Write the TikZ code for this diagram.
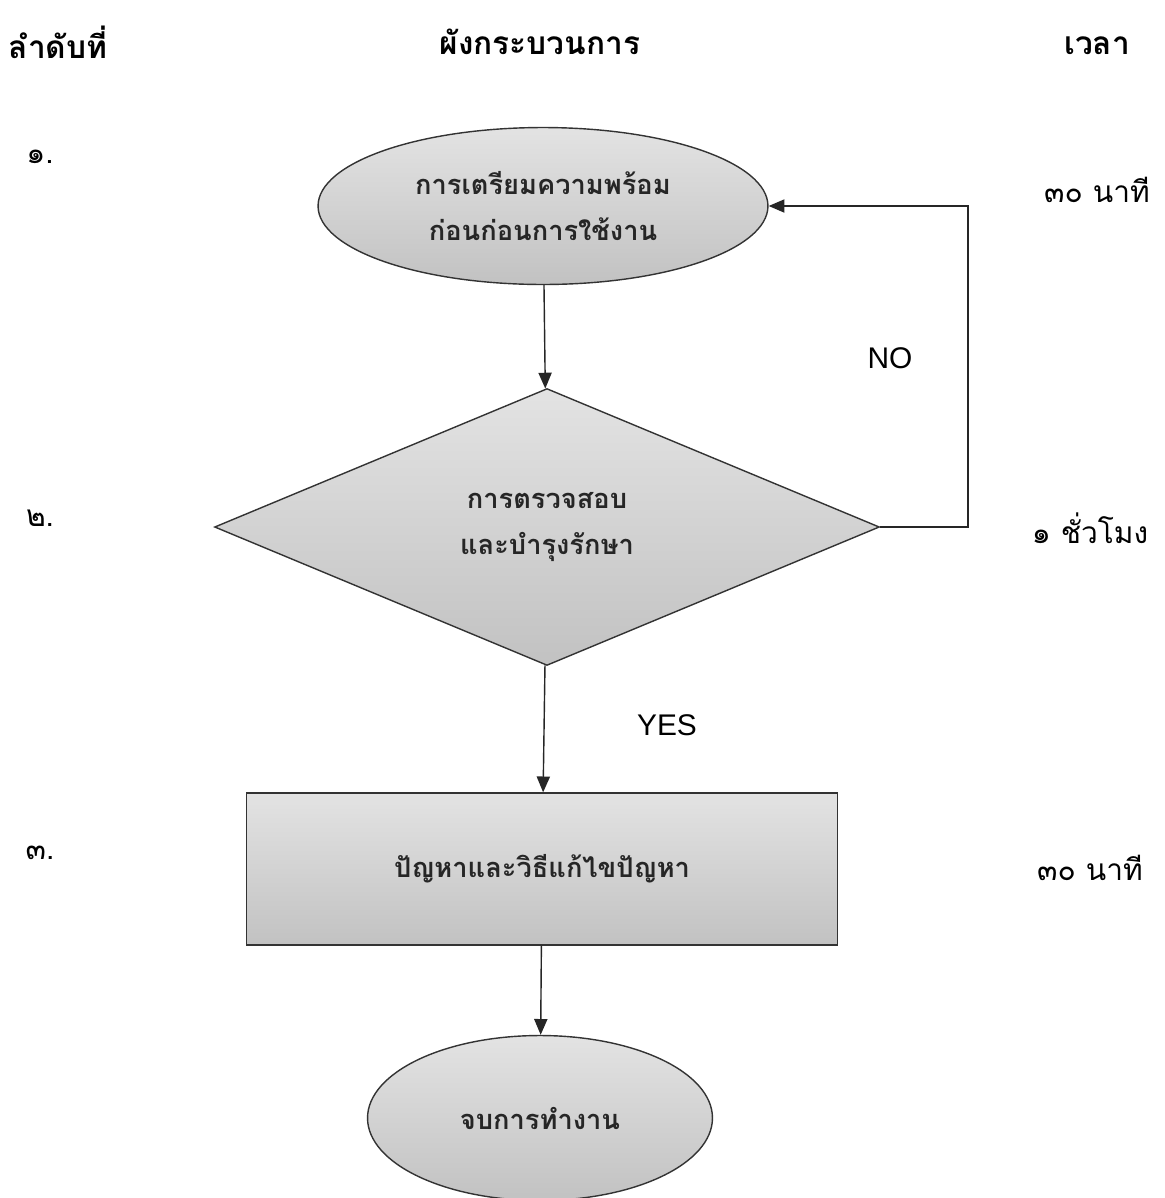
\documentclass[tikz,border=0pt]{standalone}
\usepackage{fontspec}
\setmainfont{Liberation Sans}
\newfontfamily\thaifont[Script=Thai]{Loma}
\usetikzlibrary{shapes.geometric,arrows.meta}

\begin{document}
\begin{tikzpicture}[x=0.02cm,y=-0.02cm,
    box/.style={draw=black!80,line width=0.8pt,top color=gray!22,bottom color=gray!48,
        font=\thaifont\bfseries\fontsize{15.5}{26}\selectfont,align=center,text=black!85,inner sep=0pt},
    ovalbox/.style={box,ellipse},
    checkbox/.style={box,diamond},
    head/.style={font=\thaifont\bfseries\fontsize{18}{22}\selectfont},
    num/.style={font=\thaifont\fontsize{17}{20}\selectfont},
    answer/.style={font=\fontsize{17}{20}\selectfont},
    flow/.style={line width=0.8pt,draw=black!85,-{Triangle[length=9pt,width=7.5pt]}}]
    \useasboundingbox (0,0) rectangle (1165,1198);

    % headings
    \node[head] (hnum) at (58,42) {ลำดับที่};
    \node[head] (hflow) at (540,42) {ผังกระบวนการ};
    \node[head] (htime) at (1097,46) {เวลา};

    % flow chart
    \node[ovalbox,minimum width=9cm,minimum height=3.14cm] (prep) at (543,206)
        {การเตรียมความพร้อม\\ก่อนก่อนการใช้งาน};
    \node[checkbox,minimum width=13.3cm,minimum height=5.54cm] (check) at (547,527)
        {การตรวจสอบ\\และบำรุงรักษา};
    \node[box,minimum width=11.82cm,minimum height=3.04cm] (fix) at (542,869)
        {ปัญหาและวิธีแก้ไขปัญหา};
    \node[ovalbox,minimum width=6.9cm,minimum height=3.3cm] (stop) at (540,1118)
        {จบการทำงาน};

    \draw[flow] (prep) -- (check);
    \draw[flow] (check) -- (fix);
    \draw[flow] (fix) -- (stop);
    \draw[flow] (check.east) -- ++(88,0) |- (prep.east);
    \node[answer] (no) at (890,358) {NO};
    \node[answer] (yes) at (667,725) {YES};

    % steps and times
    \node[num] (n1) at (40,157) {๑.};
    \node[num] (n2) at (40,518) {๒.};
    \node[num] (n3) at (40,853) {๓.};
    \node[num] (t1) at (1097,190) {๓๐ นาที};
    \node[num] (t2) at (1090,528) {๑ ชั่วโมง};
    \node[num] (t3) at (1090,868) {๓๐ นาที};
\end{tikzpicture}
\end{document}
